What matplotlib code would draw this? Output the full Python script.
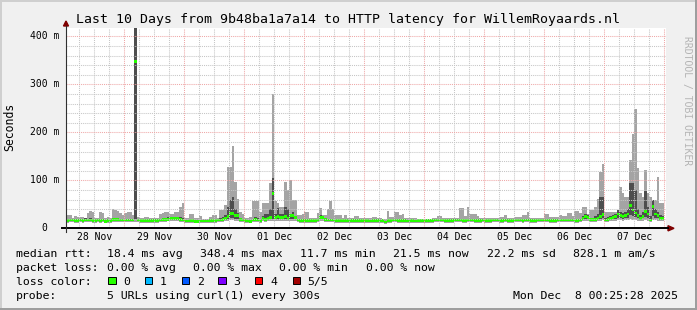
import matplotlib
matplotlib.use("Agg")
import matplotlib.pyplot as plt
import numpy as np
from matplotlib.lines import Line2D
from matplotlib.patches import Rectangle, Polygon

# ---------------- data (hourly bins, Nov 28 00:00 -> Dec 8 00:00), values in ms ----------------
median_ms = [
    16,16,17,17,16,16,17,16,17,17,17,16,16,17,16,17,14,16,16,18,18,18,17,17,   # 28 Nov
    17,17,17,17,348,17,16,16,16,16,16,16,16,16,17,18,18,19,20,20,20,20,19,17,  # 29 Nov
    15,15,16,16,14,14,15,15,15,15,16,16,16,17,17,18,20,25,31,31,26,26,18,17,   # 30 Nov
    16,15,14,17,18,17,16,20,19,20,22,72,22,24,22,22,24,21,26,26,22,17,16,16,   # 01 Dec
    16,16,16,16,16,17,23,22,18,17,17,17,16,16,16,16,16,16,16,16,16,16,16,16,   # 02 Dec
    16,16,15,16,16,16,15,16,13,16,16,17,17,16,16,16,16,15,16,16,15,16,16,16,   # 03 Dec
    16,16,16,16,17,17,17,17,16,16,16,16,17,17,17,16,16,17,17,17,16,16,16,17,   # 04 Dec
    16,16,16,17,17,17,16,16,17,16,16,16,17,17,17,16,17,17,16,16,16,17,17,17,   # 05 Dec
    17,17,16,16,16,17,17,17,17,17,17,17,16,16,17,20,24,22,18,18,19,20,25,29,   # 06 Dec
    17,18,20,22,24,30,27,25,27,30,47,38,32,26,21,25,35,30,17,45,30,26,21,21,   # 07 Dec
]
max_ms = [
    24,27,28,21,26,24,23,23,21,31,36,33,22,21,33,31,21,24,21,40,38,36,31,27,
    31,34,34,28,450,24,21,21,24,24,21,21,21,21,30,31,33,33,30,30,35,35,45,52,
    21,21,30,30,21,21,26,20,20,20,24,28,28,21,38,38,49,128,128,172,97,62,35,30,
    21,21,24,56,56,56,35,52,52,52,95,279,56,52,45,45,97,80,100,60,60,28,28,30,
    33,33,21,21,21,31,42,28,28,40,56,40,28,28,28,21,28,21,21,21,26,26,21,21,
    21,21,21,24,24,21,21,20,20,37,24,24,33,33,28,30,21,21,21,21,21,20,20,20,
    20,20,20,21,21,26,26,21,21,21,21,21,21,21,42,42,26,45,30,30,30,26,21,21,
    21,21,21,21,21,21,24,24,28,21,21,21,24,24,24,28,28,35,21,21,21,21,21,21,
    29,29,24,24,24,24,28,26,26,32,32,26,36,36,31,45,45,30,38,38,45,62,118,135,
    35,35,35,35,35,35,87,73,66,66,142,196,248,125,73,66,121,73,66,59,59,107,53,53,
]
upper_ms = [
    19,19,20,20,19,19,20,19,21,20,21,19,19,20,19,20,17,19,19,21,21,22,20,20,
    20,20,20,20,450,20,19,19,19,19,19,19,19,19,20,22,22,23,24,24,24,24,24,21,
    18,18,19,19,17,17,18,18,18,18,19,19,19,20,21,24,28,45,60,65,40,32,22,20,
    19,18,17,20,24,22,20,25,30,30,40,105,30,42,30,30,45,40,28,35,26,20,19,19,
    19,19,19,19,19,20,28,26,21,20,20,20,19,19,19,19,19,19,19,19,19,19,19,19,
    19,19,18,19,19,19,18,19,16,19,19,20,20,19,19,19,19,18,19,19,18,19,19,19,
    19,19,19,19,20,20,20,20,19,19,19,19,20,20,20,19,19,20,20,20,19,19,19,20,
    19,19,19,20,20,20,19,19,20,19,19,19,20,20,20,19,20,20,19,19,19,20,20,20,
    20,20,19,19,19,20,20,20,20,20,20,20,19,19,20,26,30,27,22,22,25,30,66,66,
    21,23,26,28,30,38,35,32,35,40,95,95,80,40,28,35,78,45,25,60,40,35,27,26,
]
lower_ms = [
    15,15,16,16,15,15,16,15,16,16,16,15,15,16,15,16,13,15,15,17,17,17,16,16,
    16,16,16,16,20,16,15,15,15,15,15,15,15,15,16,17,17,18,18,18,18,18,17,16,
    14,14,15,15,13,13,14,14,14,14,15,15,15,16,16,17,18,20,22,22,20,20,17,16,
    15,14,13,16,16,16,15,18,17,18,19,20,19,20,19,19,20,18,20,20,19,16,15,15,
    15,15,15,15,15,16,19,19,17,16,16,16,15,15,15,15,15,15,15,15,15,15,15,15,
    15,15,14,15,15,15,14,15,12,15,15,16,16,15,15,15,15,14,15,15,14,15,15,15,
    15,15,15,15,16,16,16,16,15,15,15,15,16,16,16,15,15,16,16,16,15,15,15,16,
    15,15,15,16,16,16,15,15,16,15,15,15,16,16,16,15,16,16,15,15,15,16,16,16,
    16,16,15,15,15,16,16,16,16,16,16,16,15,15,16,18,20,19,17,17,17,18,20,22,
    16,17,18,19,20,22,21,20,21,22,28,26,24,21,19,21,24,22,16,26,22,21,19,19,
]
min_ms = [
    12,12,13,13,12,12,13,12,13,13,13,12,12,13,12,13,11,12,12,14,14,14,13,13,
    13,13,13,13,14,13,12,12,12,12,12,12,12,12,13,14,14,15,15,15,15,15,14,13,
    12,12,12,12,11,11,12,12,12,12,12,12,12,13,13,14,15,16,17,17,16,16,14,13,
    12,12,11,13,14,13,12,15,14,15,15,16,16,16,16,16,16,15,16,16,15,13,12,12,
    12,12,12,12,12,13,15,15,14,13,13,13,12,12,12,12,12,12,12,12,12,12,12,12,
    12,12,12,12,12,12,12,12,10,12,12,13,13,12,12,12,12,12,12,12,12,12,12,12,
    12,12,12,12,13,13,13,13,12,12,12,12,13,13,13,12,12,13,13,13,12,12,12,13,
    12,12,12,13,13,13,12,12,13,12,12,12,13,13,13,12,13,13,12,12,12,13,13,13,
    13,13,12,12,12,13,13,13,13,13,13,13,12,12,13,15,16,15,14,14,14,15,16,17,
    13,14,15,16,16,17,17,16,17,17,19,18,18,16,15,16,17,16,13,18,17,16,15,15,
]
day_labels = ["28 Nov", "29 Nov", "30 Nov", "01 Dec", "02 Dec",
              "03 Dec", "04 Dec", "05 Dec", "06 Dec", "07 Dec"]
y_ticks = [0, 100, 200, 300, 400]
y_tick_labels = ["0", "100 m", "200 m", "300 m", "400 m"]

title = "Last 10 Days from 9b48ba1a7a14 to HTTP latency for WillemRoyaards.nl"
legend_rows = [
    ["median rtt:", "18.4 ms avg", "348.4 ms max", "11.7 ms min", "21.5 ms now", "22.2 ms sd", "828.1 m am/s"],
    ["packet loss:", "0.00 % avg", "0.00 % max", "0.00 % min", "0.00 % now"],
]
loss_labels = ["0", "1", "2", "3", "4", "5/5"]
loss_colors = ["#26ff00", "#00b8ff", "#0059ff", "#7e00ff", "#ff0000", "#a10000"]
probe_text = "5 URLs using curl(1) every 300s"
stamp = "Mon Dec  8 00:25:28 2025"

# ---------------- figure ----------------
W, H = 697, 310
MONO = "DejaVu Sans Mono"
BACK = "#f0f0f0"
fig = plt.figure(figsize=(W / 100, H / 100), dpi=100, facecolor=BACK)

def fx(px):
    return px / W

def fy(py):
    return 1 - py / H

X0, X1 = 65.5, 665.5          # plot pixel range
Y0, YT = 228.3, 28.0          # y pixel of 0 and of top
PX_PER_M = 0.48
ymax = (Y0 - YT) / PX_PER_M
t_start = 25 / 60.0           # hours after Nov 28 00:00
t_end = t_start + 240

ax = fig.add_axes([fx(X0), fy(Y0), fx(X1) - fx(X0), (Y0 - YT) / H])
ax.set_facecolor("white")
ax.set_xlim(t_start, t_end)
ax.set_ylim(0, ymax)
for s in ax.spines.values():
    s.set_visible(False)
ax.set_xticks([])
ax.set_yticks([])

edges = np.arange(len(median_ms) + 1)
med = np.array(median_ms, float)
ax.stairs(max_ms, edges, baseline=min_ms, fill=True, color="#a4a4a4", lw=0, zorder=2)
ax.stairs(upper_ms, edges, baseline=lower_ms, fill=True, color="#4e4e4e", lw=0, zorder=3)
half = 1.35 / PX_PER_M
ax.stairs(med + half, edges, baseline=med - half, fill=True, color=loss_colors[0], lw=0, zorder=4)

# grid (drawn on top, like rrdtool)
grid_c = "#c6c6c6"
mgrid_c = "#efa8a8"
dots = (0, (1, 1))
for h in range(0, 241, 6):
    if t_start <= h <= t_end:
        c = mgrid_c if h % 24 == 0 else grid_c
        ax.axvline(h, color=c, lw=0.75, ls=dots, zorder=5 if h % 24 == 0 else 4.5)
for v in range(20, int(ymax) + 1, 20):
    c = mgrid_c if v % 100 == 0 else grid_c
    ax.axhline(v, color=c, lw=0.75, ls=dots, zorder=5 if v % 100 == 0 else 4.5)

# axes lines and arrows
ARROW = "#7f0000"
fig.add_artist(Line2D([fx(62), fx(668)], [fy(Y0), fy(Y0)], color="black", lw=1.4))
fig.add_artist(Line2D([fx(66), fx(66)], [fy(231.5), fy(25.5)], color="#303030", lw=0.8))
fig.add_artist(Polygon([[fx(63.5), fy(26)], [fx(68.5), fy(26)], [fx(66), fy(21)]],
                       closed=True, color=ARROW, transform=fig.transFigure))
fig.add_artist(Polygon([[fx(668), fy(Y0 - 2.6)], [fx(668), fy(Y0 + 2.6)], [fx(674), fy(Y0)]],
                       closed=True, color=ARROW, transform=fig.transFigure))

# tick labels
for v, lab in zip(y_ticks, y_tick_labels):
    ypx = Y0 - v * PX_PER_M
    xr = 59.5 if lab != "0" else 47.7
    fig.text(fx(xr), fy(ypx), lab, ha="right", va="center", family=MONO, fontsize=7.0)
for i, lab in enumerate(day_labels):
    xpx = X0 + (i * 24 + 12 - t_start) * 2.5
    fig.text(fx(xpx), fy(237.4), lab, ha="center", va="center", family=MONO, fontsize=7.0)

# title, axis label, watermark
fig.text(fx(348.5), fy(19), title, ha="center", va="center", family=MONO, fontsize=9.5)
fig.text(fx(10), fy(127), "Seconds", rotation=90, ha="center", va="center", family=MONO, fontsize=8.3)
fig.text(fx(687), fy(101), "RRDTOOL / TOBI OETIKER", rotation=-90, ha="center", va="center",
         family=MONO, fontsize=7.0, color="#b4b4b4")

# legend
FS = 8.25
row_y = [254, 268.3, 282.3, 296]
xs_row0 = [16, 107.3, 200, 300, 393.3, 486.7, 572.7]
xs_row1 = [16, 107.3, 193.3, 279.3, 365.7]
for lab, x in zip(legend_rows[0], xs_row0):
    fig.text(fx(x), fy(row_y[0]), lab, ha="left", va="center", family=MONO, fontsize=FS)
for lab, x in zip(legend_rows[1], xs_row1):
    fig.text(fx(x), fy(row_y[1]), lab, ha="left", va="center", family=MONO, fontsize=FS)
fig.text(fx(16), fy(row_y[2]), "loss color:", ha="left", va="center", family=MONO, fontsize=FS)
box_x = [108.3, 145.0, 181.7, 218.3, 255.0, 292.7]
for lab, col, bx in zip(loss_labels, loss_colors, box_x):
    fig.add_artist(Rectangle((fx(bx), fy(284.3)), 7.4 / W, 7.6 / H, facecolor=col,
                             edgecolor="black", lw=0.7, transform=fig.transFigure))
    fig.text(fx(bx + 15), fy(row_y[2]), lab, ha="left", va="center", family=MONO, fontsize=FS)
fig.text(fx(16), fy(row_y[3]), "probe:", ha="left", va="center", family=MONO, fontsize=FS)
fig.text(fx(107.3), fy(row_y[3]), probe_text, ha="left", va="center", family=MONO, fontsize=FS)
fig.text(fx(513.3), fy(row_y[3]), stamp, ha="left", va="center", family=MONO, fontsize=FS)

# 3D frame (rrdtool shades)
fig.add_artist(Rectangle((0, fy(2)), 1, 2 / H, color="#cfcfcf", transform=fig.transFigure, lw=0))
fig.add_artist(Rectangle((0, 0), 2 / W, 1, color="#cfcfcf", transform=fig.transFigure, lw=0))
fig.add_artist(Rectangle((0, 0), 1, 2 / H, color="#9e9e9e", transform=fig.transFigure, lw=0))
fig.add_artist(Rectangle((fx(W - 2), 0), 2 / W, 1, color="#9e9e9e", transform=fig.transFigure, lw=0))

fig.savefig("out.png", dpi=100, facecolor=BACK)
